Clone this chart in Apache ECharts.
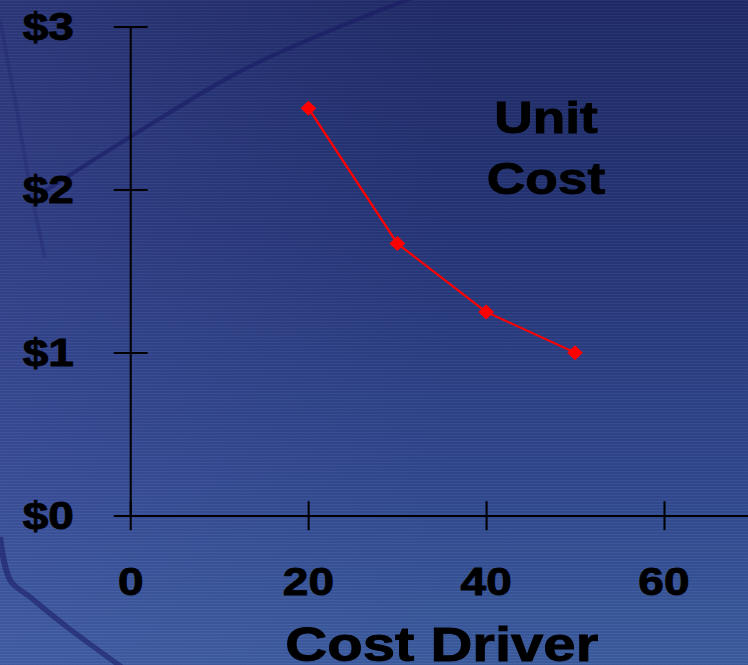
<!DOCTYPE html>
<html>
<head>
<meta charset="utf-8">
<script src="https://cdn.jsdelivr.net/npm/echarts@6/dist/echarts.min.js"></script>
<style>
  html, body { margin: 0; padding: 0; width: 748px; height: 665px; overflow: hidden; }
  #stage {
    position: relative; width: 748px; height: 665px; overflow: hidden;
    background:
      repeating-linear-gradient(to bottom, rgba(255,255,255,0.035) 0px, rgba(255,255,255,0.035) 1px, rgba(0,0,20,0.05) 1px, rgba(0,0,20,0.05) 3px),
      linear-gradient(to right, rgba(90,100,190,0.22) 0%, rgba(90,100,190,0.0) 60%),
      linear-gradient(to bottom, #202c68 0%, #263678 35%, #31488f 70%, #3d5ea1 100%);
  }
  /* slide text is set wide: the chart is laid out narrower and stretched horizontally */
  #chart {
    position: absolute; left: 0; top: 0; width: 618px; height: 665px;
    transform: scaleX(1.2104); transform-origin: 0 0;
  }
</style>
</head>
<body>
<div id="stage"><div id="chart"></div></div>
<script>
// Unit cost falls as the cost driver volume rises
const costDriver = [20, 30, 40, 50];
const unitCost = [2.5, 1.67, 1.25, 1.0];
const xTicks = [0, 20, 40, 60];
const yTicks = ['$0', '$1', '$2', '$3'];
const xAxisTitle = 'Cost Driver';
const seriesTitle = ['Unit', 'Cost'];

const S = 1.2104; // horizontal stretch applied to the chart container
const font = '"Liberation Sans", Arial, sans-serif';
const ink = '#000000';

const chart = echarts.init(document.getElementById('chart'), null, { renderer: 'svg' });

const xBase = {
  type: 'value', min: 0, max: 70, interval: 20,
  splitLine: { show: false }
};
const yBase = {
  type: 'value', min: 0, max: 3, interval: 1,
  splitLine: { show: false }
};
const heavy = { textBorderColor: ink, textBorderWidth: 0.9 };

// faint darker sweeps in the backdrop (screen coordinates, divided by the stretch)
const sx = (x) => x / S;
const sweep = (pts, w, op) => ({
  type: 'polyline', silent: true, z: -10,
  shape: { points: pts.map(p => [sx(p[0]), p[1]]), smooth: 0.35 },
  style: { stroke: 'rgba(25,25,100,' + op + ')', lineWidth: w, fill: null }
});
const titleLine = (txt, y) => ({
  type: 'text', x: sx(546), y: y, z: 10,
  style: {
    text: txt, align: 'center', verticalAlign: 'middle',
    font: 'bold 44px ' + font, fill: ink, stroke: ink, lineWidth: 0.9
  }
});

chart.setOption({
  backgroundColor: 'transparent',
  animation: false,
  grid: {
    left: 108, width: 513.9, top: 26.7, bottom: 149.3,
    containLabel: false, outerBoundsMode: 'none'
  },
  graphic: [
    sweep([[45, 191], [143, 129], [239, 72], [334, 29], [420, -5]], 4, 0.55),
    sweep([[0, 20], [15, 100], [29, 181], [45, 258]], 3, 0.22),
    sweep([[0, 537], [10, 580], [30, 597], [67, 627], [123, 668]], 5, 0.55),
    titleLine(seriesTitle[0], 118),
    titleLine(seriesTitle[1], 179)
  ],
  xAxis: [
    Object.assign({}, xBase, {
      position: 'bottom',
      name: xAxisTitle, nameLocation: 'middle', nameGap: 105,
      nameTextStyle: Object.assign({ color: ink, fontFamily: font, fontWeight: 'bold', fontSize: 48 }, heavy),
      axisLine: { show: true, onZero: false, lineStyle: { color: ink, width: 2 } },
      axisTick: { show: true, inside: false, length: 14.5, lineStyle: { color: ink, width: 1.7 } },
      axisLabel: Object.assign({
        show: true, margin: 47, showMaxLabel: false,
        color: ink, fontFamily: font, fontWeight: 'bold', fontSize: 38,
        formatter: (v) => (xTicks.indexOf(v) >= 0 ? String(v) : '')
      }, heavy)
    }),
    Object.assign({}, xBase, {
      position: 'bottom',
      axisLine: { show: false },
      axisTick: { show: true, inside: true, length: 14.5, lineStyle: { color: ink, width: 1.7 } },
      axisLabel: { show: false }
    })
  ],
  yAxis: [
    Object.assign({}, yBase, {
      position: 'left',
      axisLine: { show: true, onZero: false, lineStyle: { color: ink, width: 1.7 } },
      axisTick: { show: true, inside: false, length: 14, lineStyle: { color: ink, width: 2 } },
      axisLabel: Object.assign({
        show: true, margin: 47,
        color: ink, fontFamily: font, fontWeight: 'bold', fontSize: 38,
        formatter: (v) => yTicks[v]
      }, heavy)
    }),
    Object.assign({}, yBase, {
      position: 'left',
      axisLine: { show: false },
      axisTick: { show: true, inside: true, length: 14, lineStyle: { color: ink, width: 2 } },
      axisLabel: { show: false }
    })
  ],
  series: [{
    type: 'line',
    data: costDriver.map((x, i) => [x, unitCost[i]]),
    symbol: 'diamond',
    symbolSize: [13, 15],
    lineStyle: { color: '#ff0000', width: 2 },
    itemStyle: { color: '#ff0000' },
    z: 5
  }]
});
</script>
</body>
</html>
